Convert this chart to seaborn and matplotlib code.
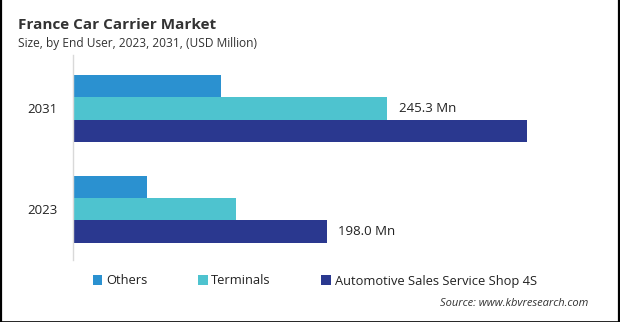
import matplotlib
matplotlib.use("Agg")
import matplotlib.pyplot as plt
from matplotlib.lines import Line2D
import seaborn as sns
import pandas as pd

# Market size by end user (USD Million)
years = ["2031", "2023"]
segments = ["Others", "Terminals", "Automotive Sales Service Shop 4S"]
others = [115.3, 57.7]
terminals = [245.3, 127.6]
automotive = [354.2, 198.0]
colors = ["#2B91D0", "#4EC3CF", "#2A388F"]

rows = []
for seg, vals in zip(segments, [others, terminals, automotive]):
    for yr, v in zip(years, vals):
        rows.append({"Year": yr, "Segment": seg, "Value": v})
df = pd.DataFrame(rows)

sns.set_style("white")
plt.rcParams["font.family"] = ["Open Sans", "DejaVu Sans"]

fig = plt.figure(figsize=(6.2, 3.22), dpi=100)
ax = fig.add_axes([72.5 / 620, 1 - 260 / 322, (600 - 72.5) / 620, 205 / 322])

sns.barplot(data=df, y="Year", x="Value", hue="Segment", order=years,
            hue_order=segments, palette=colors, orient="h", width=0.66,
            saturation=1, ax=ax, legend=True, errorbar=None, linewidth=0)

ax.set_xlim(0, (600 - 72.5) / 1.284)
ax.set_ylim(1.503, -0.53)
ax.set_xlabel("")
ax.set_ylabel("")
ax.set_xticks([])
for side in ["top", "right", "bottom"]:
    ax.spines[side].set_visible(False)
ax.spines["left"].set_color("#D9D9D9")
ax.spines["left"].set_linewidth(1.0)
ax.tick_params(axis="y", length=0, pad=11, labelsize=9.5, labelcolor="#222222")

# value labels on selected bars
containers = ax.containers
ax.bar_label(containers[1], labels=["245.3 Mn", ""], padding=8,
             fontsize=9.5, color="#222222")
ax.bar_label(containers[2], labels=["", "198.0 Mn"], padding=8,
             fontsize=9.5, color="#222222")

handles, labels = ax.get_legend_handles_labels()
ax.get_legend().remove()
fig.legend(handles, labels, loc="center left", bbox_to_anchor=(81 / 620, 1 - 281 / 322),
           ncol=3, frameon=False, fontsize=9.3, handlelength=0.75, handleheight=0.75,
           handletextpad=0.3, columnspacing=3.9, labelcolor="#222222")

fig.text(18 / 620, 1 - 25 / 322, "France Car Carrier Market", fontsize=11,
         fontweight="bold", color="#333333", va="center", ha="left")
fig.text(18 / 620, 1 - 44 / 322, "Size, by End User, 2023, 2031, (USD Million)",
         fontsize=8.6, color="#333333", va="center", ha="left")
fig.text(588 / 620, 1 - 304 / 322, "Source: www.kbvresearch.com", fontsize=8,
         style="italic", color="#333333", va="center", ha="right")

# thin dark frame on left, right and bottom edges
fig.add_artist(Line2D([0.5 / 620, 0.5 / 620], [0, 1], transform=fig.transFigure,
                      color="black", linewidth=1.6))
fig.add_artist(Line2D([619.3 / 620, 619.3 / 620], [0, 1], transform=fig.transFigure,
                      color="black", linewidth=1.6))
fig.add_artist(Line2D([0, 1], [0.5 / 322, 0.5 / 322], transform=fig.transFigure,
                      color="black", linewidth=1.2))

fig.savefig("out.png", dpi=100, facecolor="white")
